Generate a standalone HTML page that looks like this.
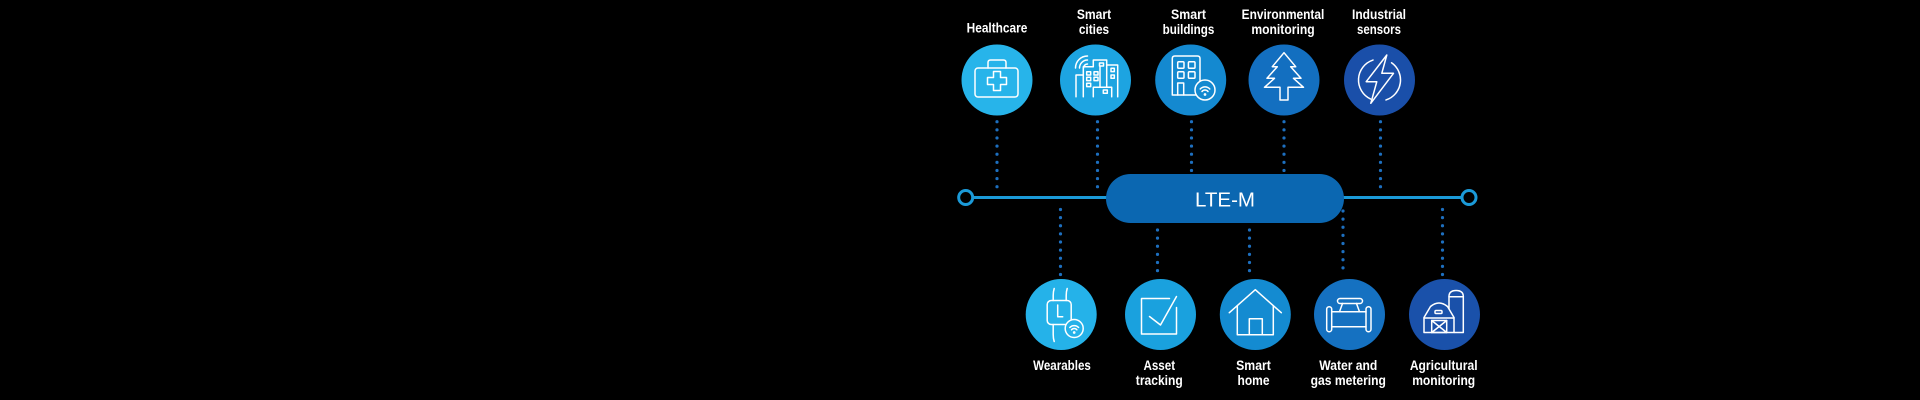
<!DOCTYPE html>
<html><head><meta charset="utf-8"><style>
html,body{margin:0;padding:0;background:#000;}
svg{display:block;}
text{font-family:"Liberation Sans",sans-serif;fill:#fff;}
.lb{font-size:13.5px;font-weight:bold;}
.ic{fill:none;stroke:#fff;stroke-width:1.5;stroke-linejoin:round;stroke-linecap:round;}
.dt{stroke:#1d6fbf;stroke-width:3.2;stroke-linecap:round;stroke-dasharray:0 8.125;}
</style></head><body>
<svg width="1920" height="400" viewBox="0 0 1920 400" xmlns="http://www.w3.org/2000/svg">
<rect width="1920" height="400" fill="#000"/>

<!-- dotted connectors top -->
<line class="dt" x1="997" y1="121.7" x2="997" y2="187"/>
<line class="dt" x1="1097.5" y1="121.7" x2="1097.5" y2="187"/>
<line class="dt" x1="1191.5" y1="121.7" x2="1191.5" y2="171"/>
<line class="dt" x1="1284" y1="121.7" x2="1284" y2="171"/>
<line class="dt" x1="1380.5" y1="121.7" x2="1380.5" y2="187"/>
<!-- dotted connectors bottom -->
<line class="dt" x1="1060.5" y1="209.5" x2="1060.5" y2="275"/>
<line class="dt" x1="1157.5" y1="230" x2="1157.5" y2="275"/>
<line class="dt" x1="1249.5" y1="230" x2="1249.5" y2="275"/>
<line class="dt" x1="1343" y1="211" x2="1343" y2="275"/>
<line class="dt" x1="1442.5" y1="209.5" x2="1442.5" y2="275"/>

<!-- main line -->
<line x1="966" y1="197.5" x2="1469" y2="197.5" stroke="#1b9ad8" stroke-width="3"/>
<circle cx="965.7" cy="197.5" r="7" fill="#000" stroke="#1b9ad8" stroke-width="3"/>
<circle cx="1469" cy="197.5" r="7" fill="#000" stroke="#1b9ad8" stroke-width="3"/>

<!-- pill -->
<rect x="1106" y="174" width="238" height="49" rx="24.5" fill="#0b67b1"/>
<text x="1225" y="206.5" font-size="20.5" text-anchor="middle" textLength="60" lengthAdjust="spacingAndGlyphs">LTE-M</text>

<!-- TOP CIRCLES -->
<circle cx="997" cy="80" r="35.5" fill="#27b4ea"/>
<circle cx="1095.5" cy="80" r="35.5" fill="#1da4e1"/>
<circle cx="1190.7" cy="80" r="35.5" fill="#1489d0"/>
<circle cx="1284" cy="80" r="35.5" fill="#136fc0"/>
<circle cx="1379.5" cy="80" r="35.5" fill="#1a4fa9"/>

<!-- Healthcare icon -->
<g transform="translate(997,80)" class="ic">
  <path d="M-9,-12 V-17.5 Q-9,-20 -6.5,-20 H6.5 Q9,-20 9,-17.5 V-12"/>
  <rect x="-22" y="-12" width="43" height="29" rx="3"/>
  <path d="M-3.5,-8.5 H3.5 V-2.5 H9.5 V4.5 H3.5 V10.5 H-3.5 V4.5 H-9.5 V-2.5 H-3.5 Z"/>
</g>

<!-- Smart cities icon -->
<g transform="translate(1095.5,80)" class="ic">
  <path d="M-12,-12 A4,4 0 0 1 -8,-16"/>
  <path d="M-16,-12 A8,8 0 0 1 -8,-20"/>
  <path d="M-20,-12 A12,12 0 0 1 -8,-24"/>
  <path d="M-19.5,16.7 V-5 H-12.2"/>
  <path d="M-12.2,16.7 V-13.3 H-2.2 V-20 H11.2 V7.3"/>
  <path d="M4.5,-13.3 V7.3"/>
  <path d="M11.8,-15 H22.2 V16.7"/>
  <path d="M-2.2,16.7 V7.3 H16.2 V16.7"/>
  <rect x="7.8" y="10" width="4" height="3.3"/>
  <rect x="-8.8" y="-8.3" width="4" height="3.3"/>
  <rect x="-1.5" y="-8.3" width="4" height="3.3"/>
  <rect x="-8.8" y="-2.7" width="4" height="3.3"/>
  <rect x="-1.5" y="-2.7" width="4" height="3.3"/>
  <rect x="-8.8" y="3.3" width="4" height="3.3"/>
  <rect x="15.5" y="-11.7" width="3.3" height="3.3"/>
  <rect x="15.5" y="-5" width="3.3" height="3.3"/>
  <rect x="4" y="-17" width="4" height="3"/>
</g>

<!-- Smart buildings icon -->
<g transform="translate(1190.7,80)" class="ic">
  <path d="M-18.4,15 V-21.5 Q-18.4,-24 -15.9,-24 H6.8 Q9.3,-24 9.3,-21.5 V15 Z"/>
  <rect x="-13" y="-18.3" width="6.3" height="6.6" rx="1"/>
  <rect x="-2.3" y="-18.3" width="6.6" height="6.6" rx="1"/>
  <rect x="-13" y="-8.3" width="6.3" height="6.6" rx="1"/>
  <rect x="-2.3" y="-8.3" width="6.6" height="6.6" rx="1"/>
  <path d="M-13,15 V3 H-7 V15"/>
  <circle cx="14.3" cy="10" r="10" fill="#1489d0"/>
  <path d="M9.5,9 A6.5,6.5 0 0 1 19.1,9"/>
  <path d="M11.3,11.5 A3.8,3.8 0 0 1 17.3,11.5"/>
  <circle cx="14.3" cy="14.5" r="0.6"/>
</g>

<!-- Environmental icon -->
<g transform="translate(1284,80)" class="ic">
  <path d="M0,-27.3 L-11.7,-13.3 H-6.7 L-17,-1.7 H-9.5 L-19.5,7.3 H-4 V20 H4 V7.3 H19.5 L9.5,-1.7 H17 L6.7,-13.3 H11.7 Z"/>
</g>

<!-- Industrial icon -->
<g transform="translate(1379.5,80)" class="ic">
  <path d="M12.05,-17.2 A21,21 0 0 1 6.49,19.97"/>
  <path d="M-8.87,19.03 A21,21 0 0 1 -6.49,-19.97"/>
  <path d="M7.3,-25 L-13.3,1.7 H-2.7 L-8.7,23.3 L14,-6.7 H2.3 Z"/>
</g>

<!-- top labels -->
<text class="lb" x="997" y="32.5" text-anchor="middle" textLength="60.7" lengthAdjust="spacingAndGlyphs">Healthcare</text>
<text class="lb" x="1094" y="19" text-anchor="middle" textLength="34.3" lengthAdjust="spacingAndGlyphs">Smart</text>
<text class="lb" x="1094" y="34" text-anchor="middle" textLength="30.3" lengthAdjust="spacingAndGlyphs">cities</text>
<text class="lb" x="1188.5" y="19" text-anchor="middle" textLength="35" lengthAdjust="spacingAndGlyphs">Smart</text>
<text class="lb" x="1188.5" y="34" text-anchor="middle" textLength="51.7" lengthAdjust="spacingAndGlyphs">buildings</text>
<text class="lb" x="1283" y="19" text-anchor="middle" textLength="82.7" lengthAdjust="spacingAndGlyphs">Environmental</text>
<text class="lb" x="1283" y="34" text-anchor="middle" textLength="63.3" lengthAdjust="spacingAndGlyphs">monitoring</text>
<text class="lb" x="1379" y="19" text-anchor="middle" textLength="54" lengthAdjust="spacingAndGlyphs">Industrial</text>
<text class="lb" x="1379" y="34" text-anchor="middle" textLength="44" lengthAdjust="spacingAndGlyphs">sensors</text>

<!-- BOTTOM CIRCLES -->
<circle cx="1061.2" cy="314.5" r="35.5" fill="#25b2e9"/>
<circle cx="1160.5" cy="314.5" r="35.5" fill="#1aa1de"/>
<circle cx="1255.3" cy="314.5" r="35.5" fill="#148bd1"/>
<circle cx="1349.5" cy="314.5" r="35.5" fill="#1571c1"/>
<circle cx="1444.5" cy="314.5" r="35.5" fill="#1a51aa"/>

<!-- Wearables icon -->
<g transform="translate(1061.2,314.5)" class="ic">
  <path d="M-8,-14 V-19 Q-8,-23 -7,-26"/>
  <path d="M5,-14 V-19 Q5,-23 6,-26"/>
  <path d="M-8,10 V20 Q-8,24 -7,27"/>
  <path d="M5,10 V13"/>
  <rect x="-14" y="-14" width="24" height="24" rx="4"/>
  <path d="M-3.5,-9.5 V2.2 H1.5"/>
  <circle cx="13" cy="14" r="9" fill="#25b2e9"/>
  <path d="M8.6,13 A6,6 0 0 1 17.4,13"/>
  <path d="M10.3,15.3 A3.5,3.5 0 0 1 15.7,15.3"/>
  <circle cx="13" cy="18" r="0.6"/>
</g>

<!-- Asset tracking icon -->
<g transform="translate(1160.5,314.5)" class="ic">
  <path d="M16,-7 V19.5 H-19 V-16 H9"/>
  <path d="M-11,2 L0,10.5 L16,-18"/>
</g>

<!-- Smart home icon -->
<g transform="translate(1255.3,314.7)" class="ic">
  <path d="M-26,-2 L0,-25 L26,-2"/>
  <path d="M-18,-9 V20 H18 V-9"/>
  <path d="M-6,20 V4 H7 V20"/>
</g>

<!-- Water and gas icon -->
<g transform="translate(1349.5,314.5)" class="ic">
  <rect x="-22.8" y="-7.8" width="5" height="25" rx="2.5"/>
  <rect x="16.5" y="-7.8" width="5" height="25" rx="2.5"/>
  <path d="M-17.8,-2.8 H-10 M10,-2.8 H16.5 M-17.8,12.2 H16.5"/>
  <path d="M-10,-2.8 L-7,-11 M10,-2.8 L7,-11 M-10,-2.8 H10"/>
  <rect x="-12" y="-16" width="25" height="5" rx="2.5"/>
</g>

<!-- Agricultural icon -->
<g transform="translate(1444.5,314.5)" class="ic">
  <path d="M4.5,-4 V-18 Q4.5,-24 11.6,-24 Q18.8,-24 18.8,-18 V18 H10"/>
  <path d="M4.5,-17.8 H18.8"/>
  <path d="M-20.5,18 V3 L-14,-8 Q-5.5,-15 3,-8 L9.5,3 V18 Z" fill="#1a51aa"/>
  <rect x="-9.5" y="-4" width="7" height="3" rx="1"/>
  <path d="M-20.5,3.5 H9.5"/>
  <rect x="-12.8" y="6" width="15" height="12"/>
  <path d="M-12.8,6 L2.2,18 M2.2,6 L-12.8,18"/>
</g>

<!-- bottom labels -->
<text class="lb" x="1062" y="370" text-anchor="middle" textLength="57.7" lengthAdjust="spacingAndGlyphs">Wearables</text>
<text class="lb" x="1159.3" y="370" text-anchor="middle" textLength="31.7" lengthAdjust="spacingAndGlyphs">Asset</text>
<text class="lb" x="1159.3" y="385" text-anchor="middle" textLength="47" lengthAdjust="spacingAndGlyphs">tracking</text>
<text class="lb" x="1253.5" y="370" text-anchor="middle" textLength="34.7" lengthAdjust="spacingAndGlyphs">Smart</text>
<text class="lb" x="1253.5" y="385" text-anchor="middle" textLength="32" lengthAdjust="spacingAndGlyphs">home</text>
<text class="lb" x="1348.3" y="370" text-anchor="middle" textLength="58" lengthAdjust="spacingAndGlyphs">Water and</text>
<text class="lb" x="1348.3" y="385" text-anchor="middle" textLength="75.3" lengthAdjust="spacingAndGlyphs">gas metering</text>
<text class="lb" x="1443.7" y="370" text-anchor="middle" textLength="67.7" lengthAdjust="spacingAndGlyphs">Agricultural</text>
<text class="lb" x="1443.7" y="385" text-anchor="middle" textLength="63" lengthAdjust="spacingAndGlyphs">monitoring</text>
</svg>
</body></html>
